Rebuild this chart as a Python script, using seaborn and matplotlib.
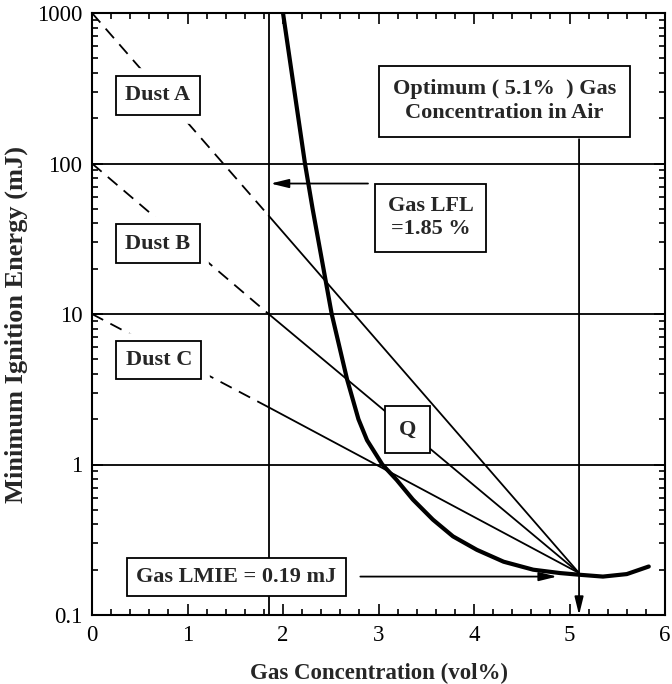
import numpy as np
import pandas as pd
import matplotlib
matplotlib.use("Agg")
import matplotlib.pyplot as plt
import matplotlib.patheffects as pe
import seaborn as sns
from matplotlib.ticker import FixedLocator, MultipleLocator, LogLocator, NullFormatter, FixedFormatter

# ---- data ----
gas_conc = [2.0, 2.23, 2.31, 2.51, 2.67, 2.79, 2.88, 3.04, 3.19, 3.36,
            3.57, 3.78, 4.03, 4.31, 4.62, 4.90, 5.11, 5.35, 5.6, 5.83]
gas_mie = [1000, 100, 50, 10, 3.7, 2.0, 1.45, 1.0, 0.79, 0.585,
           0.43, 0.333, 0.271, 0.226, 0.2, 0.19, 0.185, 0.18, 0.187, 0.21]

dust_labels = ["Dust A", "Dust B", "Dust C"]
dust_mie_at_zero = [1000, 100, 10]
dust_mie_at_lfl = [45, 10, 2.4]
dust_label_x = [0.69, 0.69, 0.70]
dust_label_y = [284, 29.3, 4.94]

lfl_conc = 1.85
opt_conc = 5.1
lmie = 0.19
grid_levels = [1, 10, 100]

y_ticks = [0.1, 1, 10, 100, 1000]
y_ticklabels = ["0.1", "1", "10", "100", "1000"]
x_ticks = [0, 1, 2, 3, 4, 5, 6]

# ---- style ----
sns.set_theme(style="ticks")
plt.rcParams['font.family'] = ['Liberation Serif', 'DejaVu Serif']
plt.rcParams['mathtext.default'] = 'regular'

fig = plt.figure(figsize=(6.72, 6.84), dpi=100)
ax = fig.add_axes([92 / 672, 1 - 615 / 684, (665 - 92) / 672, (615 - 13) / 684])
ax.set_yscale('log')
ax.set_xlim(0, 6)
ax.set_ylim(0.1, 1000)

# grid lines
for g in grid_levels:
    ax.axhline(g, color='black', lw=1.3, zorder=1)
ax.axvline(lfl_conc, color='black', lw=1.3, zorder=1)

# dust lines: dashed up to LFL, solid to optimum point
for name, y0, y1 in zip(dust_labels, dust_mie_at_zero, dust_mie_at_lfl):
    dash_df = pd.DataFrame({"x": [0, lfl_conc], "y": [y0, y1]})
    solid_df = pd.DataFrame({"x": [lfl_conc, opt_conc], "y": [y1, lmie]})
    sns.lineplot(data=dash_df, x="x", y="y", ax=ax, color='black', lw=1.3,
                 sort=False, zorder=2, linestyle=(0, (7, 4.5)))
    sns.lineplot(data=solid_df, x="x", y="y", ax=ax, color='black', lw=1.3,
                 sort=False, zorder=2)

# gas curve
gas_df = pd.DataFrame({"conc": gas_conc, "mie": gas_mie})
sns.lineplot(data=gas_df, x="conc", y="mie", ax=ax, color='black', lw=3.0,
             sort=False, zorder=3)

# ---- boxes ----
def boxed(x, y, s, pad, fs=16, ls=1.25, halo=0):
    t = ax.text(x, y, s, ha='center', va='center', fontweight='bold', fontsize=fs,
                linespacing=ls, zorder=5,
                bbox=dict(boxstyle=f'square,pad={pad}', fc='white', ec='black', lw=1.3))
    if halo:
        t.get_bbox_patch().set_path_effects(
            [pe.Stroke(linewidth=halo, foreground='white'), pe.Normal()])
    return t

for name, lx, ly in zip(dust_labels, dust_label_x, dust_label_y):
    boxed(lx, ly, name, 0.42, halo=12)

boxed(3.30, 1.71, "Q", 0.62)
boxed(4.32, 259, "Optimum ( 5.1%  ) Gas\nConcentration in Air", 0.62)
boxed(3.545, 43.7, "Gas LFL\n=1.85 %", 0.55)
boxed(1.51, 0.179, "Gas LMIE = 0.19 mJ", 0.42)

# ---- arrows ----
akw = dict(arrowstyle='-|>,head_length=0.9,head_width=0.22', color='black', lw=1.3,
           shrinkA=0, shrinkB=0)
ax.annotate("", xy=(1.87, 73.6), xytext=(2.89, 73.6), arrowprops=akw, zorder=4)
ax.annotate("", xy=(4.87, 0.18), xytext=(2.81, 0.18), arrowprops=akw, zorder=4)
ax.annotate("", xy=(opt_conc, 0.1), xytext=(opt_conc, 145), arrowprops=akw, zorder=4)

# ---- axes / ticks ----
ax.xaxis.set_major_locator(FixedLocator(x_ticks))
ax.xaxis.set_minor_locator(MultipleLocator(0.2))
ax.yaxis.set_major_locator(FixedLocator(y_ticks))
ax.yaxis.set_major_formatter(FixedFormatter(y_ticklabels))
ax.yaxis.set_minor_locator(LogLocator(base=10, subs=np.arange(2, 10)))
ax.yaxis.set_minor_formatter(NullFormatter())
ax.tick_params(which='both', direction='in', top=True, right=True, color='black',
               width=1.2, labelsize=16.5, labelcolor='black')
ax.tick_params(which='major', length=8, pad=7)
ax.tick_params(which='minor', length=4.5)
for s in ax.spines.values():
    s.set_linewidth(1.5)
    s.set_color('black')

ax.set_xlabel("Gas Concentration (vol%)", fontsize=16.5, fontweight='bold', labelpad=12)
ax.set_ylabel("Minimum Ignition Energy (mJ)", fontsize=19, fontweight='bold')
ax.yaxis.set_label_coords(-0.112, 0.482)

fig.savefig("out.png", dpi=100)
